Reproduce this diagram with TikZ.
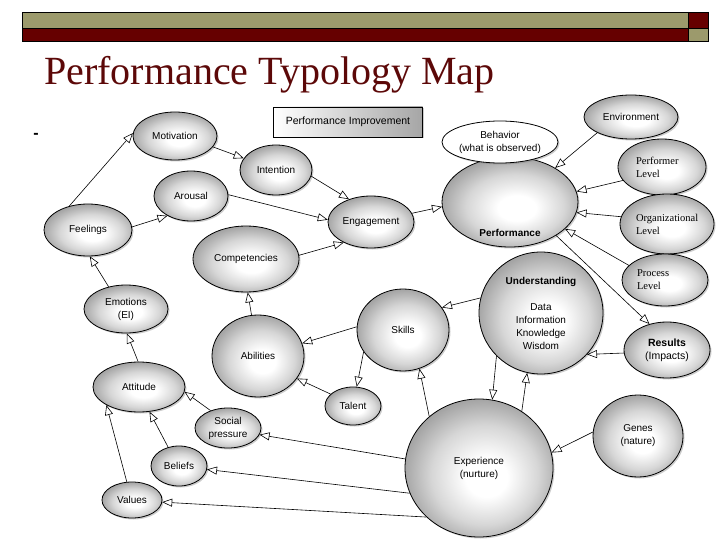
\documentclass[tikz,border=0pt]{standalone}
\usepackage{fontspec}
\setmainfont{Liberation Serif}
\setsansfont{Liberation Sans}
\usepackage{tikz}
\usetikzlibrary{shapes.geometric,shadows,arrows.meta}
\definecolor{barolive}{RGB}{156,154,108}
\definecolor{barred}{RGB}{102,0,0}
\definecolor{titlered}{RGB}{92,8,8}
\colorlet{bubblemid}{black!16}
\colorlet{bubbleedge}{black!36}
\pgfdeclareradialshading{bubbleshade}{\pgfpoint{3bp}{-4bp}}{color(0bp)=(white); color(7bp)=(white); color(18bp)=(bubblemid); color(27bp)=(bubbleedge); color(50bp)=(bubbleedge)}

\begin{document}
\begin{tikzpicture}[x=1pt, y=-1pt,
    plainbubble/.style={ellipse, draw, line width=0.8pt, inner sep=0pt, drop shadow={shadow xshift=1.5pt, shadow yshift=-1.5pt, opacity=0.4}, align=center, font=\sffamily\fontsize{10}{13}\selectfont},
    bubble/.style={plainbubble, shading=bubbleshade},
    dims/.style 2 args={minimum width=#1, minimum height=#2},
    levelbox/.style={font=\rmfamily\fontsize{10.5}{13}\selectfont, align=left},
    link/.style={line width=0.6pt, -{Triangle[open, length=10pt, width=8pt]}}]
    \useasboundingbox (0,0) rectangle (720,540);
    \fill[barolive] (22,12) rectangle (688,28);
    \fill[barred] (22,28) rectangle (688,41);
    \fill[barred] (688,12) rectangle (708,28);
    \fill[barolive] (688,28) rectangle (708,41);
    \draw[line width=0.8pt] (22,12) rectangle (708,41) (22,28) -- (708,28) (688,12) -- (688,41);
    \node[anchor=base west, text=titlered, font=\rmfamily\fontsize{40}{40}\selectfont, inner sep=0pt] (title) at (44,85) {Performance Typology Map};
    \node[font=\sffamily\bfseries\fontsize{16}{16}\selectfont, inner sep=0pt] (dash) at (36,136) {-};

    \node[draw, rectangle, line width=0.8pt, left color=white, right color=black!35, drop shadow={shadow xshift=1.5pt, shadow yshift=-1.5pt, opacity=0.4}, dims={149pt}{30pt}, font=\sffamily\fontsize{10.5}{13}\selectfont] (improvement) at (348,122) {Performance Improvement};

    \node[bubble, dims={84pt}{48pt}] (motivation) at (175,136) {Motivation};
    \node[bubble, dims={72pt}{50pt}] (intention) at (276,170) {Intention};
    \node[bubble, dims={74pt}{50pt}] (arousal) at (191,196) {Arousal};
    \node[bubble, dims={88pt}{52pt}] (feelings) at (88,230) {Feelings};
    \node[bubble, dims={86pt}{52pt}] (engagement) at (371,222) {Engagement};
    \node[bubble, dims={106pt}{66pt}] (competencies) at (246,259) {Competencies};
    \node[bubble, dims={136pt}{90pt}, label={[yshift=-31pt, font=\sffamily\bfseries\fontsize{10}{13}\selectfont]center:Performance}] (performance) at (510,202) {};
    \node[plainbubble, fill=white, dims={116pt}{42pt}] (behavior) at (500,142) {Behavior\\(what is observed)};
    \node[bubble, dims={94pt}{44pt}] (environment) at (631,117) {Environment};
    \node[bubble, levelbox, dims={88pt}{56pt}, text width=52pt] (performer) at (662,167) {Performer\\Level};
    \node[bubble, levelbox, dims={94pt}{60pt}, text width=62pt] (organizational) at (667,224) {Organizational\\Level};
    \node[bubble, levelbox, dims={86pt}{52pt}, text width=56pt] (process) at (665,280) {Process\\Level};
    \node[bubble, dims={124pt}{122pt}] (understanding) at (541,313) {\textbf{Understanding}\\[13pt]Data\\Information\\Knowledge\\Wisdom};
    \node[bubble, dims={86pt}{56pt}, font=\sffamily\fontsize{10.5}{13}\selectfont] (results) at (667,350) {\textbf{Results}\\(Impacts)};
    \node[bubble, dims={92pt}{82pt}] (skills) at (403,330) {Skills};
    \node[bubble, dims={92pt}{82pt}] (abilities) at (258,356) {Abilities};
    \node[bubble, dims={56pt}{38pt}] (talent) at (353,406) {Talent};
    \node[bubble, dims={84pt}{48pt}] (emotions) at (126,309) {Emotions\\(EI)};
    \node[bubble, dims={92pt}{50pt}] (attitude) at (139,387) {Attitude};
    \node[bubble, dims={66pt}{40pt}] (social) at (228,428) {Social\\pressure};
    \node[bubble, dims={56pt}{40pt}] (beliefs) at (179,466) {Beliefs};
    \node[bubble, dims={60pt}{36pt}] (values) at (132,500) {Values};
    \node[bubble, dims={148pt}{138pt}] (experience) at (479,468) {Experience\\(nurture)};
    \node[bubble, dims={90pt}{82pt}] (genes) at (638,436) {Genes\\(nature)};

    \draw[link] (feelings.128) -- (motivation.176);
    \draw[link] (feelings.4) -- (arousal.220);
    \draw[link] (motivation.344) -- (intention.160);
    \draw[link] (intention.350) -- (engagement.134);
    \draw[link] (arousal.2) -- (engagement.177);
    \draw[link] (competencies.4) -- (engagement.217);
    \draw[link] (engagement.12) -- (performance.184);
    \draw[link] (environment.205) -- (performance.37);
    \draw[link] (performer.199) -- (performance.9);
    \draw[link] (organizational.171) -- (performance.351);
    \draw[link] (process.158) -- (performance.334);
    \draw[link] (performance.324) -- (results.124);
    \draw[link] (results.184) -- (understanding.318);
    \draw[link] (understanding.166) -- (skills.30);
    \draw[link] (skills.176) -- (abilities.16);
    \draw[link] (skills.209) -- (talent.79);
    \draw[link] (talent.152) -- (abilities.330);
    \draw[link] (abilities.99) -- (competencies.273);
    \draw[link] (emotions.128) -- (feelings.274);
    \draw[link] (attitude.92) -- (emotions.272);
    \draw[link] (social.135) -- (attitude.354);
    \draw[link] (beliefs.120) -- (attitude.293);
    \draw[link] (values.106) -- (attitude.209);
    \draw[link] (experience.173) -- (social.348);
    \draw[link] (experience.200) -- (beliefs.353);
    \draw[link] (experience.223) -- (values.356);
    \draw[link] (experience.134) -- (skills.293);
    \draw[link] (understanding.224) -- (experience.79);
    \draw[link] (experience.53) -- (understanding.257);
    \draw[link] (genes.175) -- (experience.12);
\end{tikzpicture}
\end{document}
